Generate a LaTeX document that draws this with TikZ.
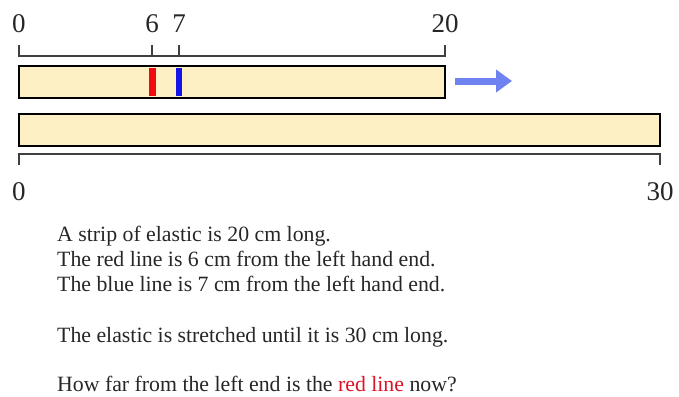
\documentclass[tikz,border=0pt]{standalone}
\usepackage{fontspec}
\setmainfont{Liberation Serif}
\usetikzlibrary{arrows.meta}
\definecolor{stripfill}{RGB}{252,240,196}
\definecolor{markred}{RGB}{240,10,20}
\definecolor{markblue}{RGB}{20,20,230}
\definecolor{pushblue}{RGB}{110,130,240}
\definecolor{askred}{RGB}{220,20,40}
\begin{document}
\begin{tikzpicture}[x=1pt,y=-1pt,
  strip/.style={draw=black, line width=1.8pt, fill=stripfill},
  ruler/.style={draw=black!75, line width=1.3pt},
  numlabel/.style={font=\fontsize{27}{32}\selectfont, anchor=base, inner sep=0pt, text=black!85},
  prose/.style={font=\fontsize{21.8}{26}\selectfont, anchor=base west, inner sep=0pt, text=black!85}]
  \useasboundingbox (0,0) rectangle (679,396);
  % the two strips
  \draw[strip] (19,66) rectangle (445,98);
  \draw[strip] (19,114) rectangle (660,146);
  \fill[markred] (149,68) rectangle (156,96);
  \fill[markblue] (176,68) rectangle (182,96);
  % rulers
  \draw[ruler] (19,45) -- (19,56) -- (445,56) -- (445,45);
  \draw[ruler] (152,45) -- (152,56);
  \draw[ruler] (179,45) -- (179,56);
  \draw[ruler] (19,165) -- (19,154) -- (660,154) -- (660,165);
  \node[numlabel] (t0) at (19,32.5) {0};
  \node[numlabel] (t6) at (152,32.5) {6};
  \node[numlabel] (t7) at (179,32.5) {7};
  \node[numlabel] (t20) at (445,32.5) {20};
  \node[numlabel] (b0) at (19,200) {0};
  \node[numlabel] (b30) at (660,200) {30};
  % stretch arrow
  \coordinate (pushstart) at (455,81);
  \coordinate (pushend) at (512,81);
  \draw[pushblue, line width=7pt, -{Triangle[length=16pt, width=22pt]}] (pushstart) -- (pushend);
  % question text
  \node[prose] (l1) at (57,241.5) {A strip of elastic is 20 cm long.};
  \node[prose] (l2) at (57,266.5) {The red line is 6 cm from the left hand end.};
  \node[prose] (l3) at (57,291.5) {The blue line is 7 cm from the left hand end.};
  \node[prose] (l4) at (57,342.5) {The elastic is stretched until it is 30 cm long.};
  \node[prose] (l5) at (57,391.5) {How far from the left end is the \textcolor{askred}{red line} now?};
\end{tikzpicture}
\end{document}
